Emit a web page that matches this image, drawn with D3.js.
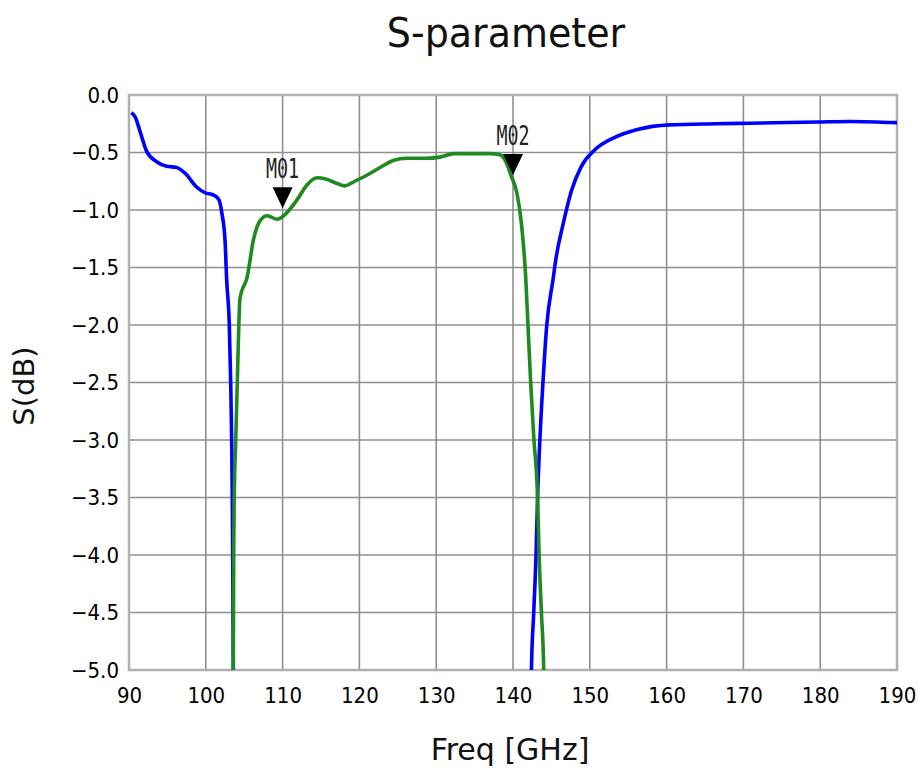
<!DOCTYPE html>
<html>
<head>
<meta charset="utf-8">
<script src="https://cdn.jsdelivr.net/npm/d3@7/dist/d3.min.js"></script>
<style>
html,body{margin:0;padding:0;background:#fff;}
svg{display:block;}
.tick text{font-family:"DejaVu Sans Condensed","DejaVu Sans",sans-serif;}
</style>
</head>
<body>
<svg id="chart" width="918" height="771"></svg>
<script>
// ---- data ----
const xTicks = [90,100,110,120,130,140,150,160,170,180,190];
const yTicks = [0,-0.5,-1,-1.5,-2,-2.5,-3,-3.5,-4,-4.5,-5];

// Blue trace (reflection) – values below -5 dB fall off the chart
const blueFreq = [90.3,90.8,91.5,92.3,93.6,94.9,96.2,97.3,98.8,99.9,101.0,101.7,102.1,102.5,102.72,103.06,103.24,103.37,103.45,103.5,103.58,103.65,
                  142.3,142.4,142.7,143.0,143.2,143.5,143.9,144.4,145.2,145.6,146.5,147.6,148.9,150.6,153.2,156.2,160.4,166.4,170.8,179.6,183.9,190.0];
const blueS    = [-0.155,-0.19,-0.33,-0.49,-0.58,-0.62,-0.63,-0.68,-0.80,-0.85,-0.87,-0.91,-1.03,-1.26,-1.61,-2.0,-2.5,-3.0,-3.5,-4.0,-5.0,-6.0,
                  -6.0,-5.0,-4.5,-4.0,-3.5,-3.0,-2.5,-2.0,-1.61,-1.42,-1.13,-0.835,-0.62,-0.48,-0.37,-0.30,-0.26,-0.25,-0.245,-0.235,-0.23,-0.24];
const blueGapAfter = 103.65; // trace below range between the two edges

// Green trace (transmission)
const greenFreq = [103.5,103.58,103.63,103.7,103.9,104.1,104.3,104.45,105.4,106.2,107.1,108.0,109.3,110.3,111.9,113.2,114.5,115.6,117.1,118.1,119.4,120.9,122.7,124.4,126.2,128.8,130.5,132.3,134.0,137.0,138.3,139.0,139.8,140.5,141.1,141.65,141.95,142.3,142.73,143.2,143.4,143.7,144.0,144.1];
const greenS    = [-6.0,-5.0,-4.0,-3.5,-3.0,-2.5,-2.0,-1.77,-1.58,-1.26,-1.09,-1.05,-1.08,-1.04,-0.91,-0.78,-0.72,-0.73,-0.77,-0.79,-0.75,-0.70,-0.63,-0.57,-0.55,-0.55,-0.54,-0.51,-0.51,-0.51,-0.52,-0.57,-0.71,-0.85,-1.12,-1.58,-2.0,-2.5,-3.0,-3.5,-4.0,-4.5,-5.0,-6.0];

const markerNames = ["M01","M02"];
const markerFreq  = [110, 140];
const markerS     = [-0.985, -0.695];

const titleText = "S-parameter";
const xLabel = "Freq [GHz]";
const yLabel = "S(dB)";

// ---- layout ----
const W = 918, H = 771;
const margin = {left:129, right:21, top:95, bottom:101};
const svg = d3.select("#chart");

const x = d3.scaleLinear().domain([90,190]).range([margin.left, W - margin.right]);
const y = d3.scaleLinear().domain([-5,0]).range([H - margin.bottom, margin.top]);

// clip
svg.append("defs").append("clipPath").attr("id","plotclip")
  .append("rect").attr("x",x(90)).attr("y",y(0)).attr("width",x(190)-x(90)).attr("height",y(-5)-y(0));

// grid
const grid = svg.append("g");
grid.selectAll("line.v").data(xTicks).join("line")
  .attr("x1",d=>x(d)).attr("x2",d=>x(d)).attr("y1",y(0)).attr("y2",y(-5))
  .attr("stroke","#8f8f8f").attr("stroke-width",1.6);
grid.selectAll("line.h").data(yTicks).join("line")
  .attr("y1",d=>y(d)).attr("y2",d=>y(d)).attr("x1",x(90)).attr("x2",x(190))
  .attr("stroke","#8f8f8f").attr("stroke-width",1.6);
// frame
svg.append("rect").attr("x",x(90)).attr("y",y(0)).attr("width",x(190)-x(90)).attr("height",y(-5)-y(0))
  .attr("fill","none").attr("stroke","#b0b0b0").attr("stroke-width",2.5);

// axes (labels only)
const fmt = d3.format(".1f");
const yAxis = d3.axisLeft(y).tickValues(yTicks).tickFormat(fmt).tickSize(0).tickPadding(10);
const yg = svg.append("g").attr("transform",`translate(${x(90)},0)`).call(yAxis);
const xAxis = d3.axisBottom(x).tickValues(xTicks).tickFormat(d3.format("d")).tickSize(0).tickPadding(17);
const xg = svg.append("g").attr("transform",`translate(0,${y(-5)})`).call(xAxis);
[yg,xg].forEach(g=>{
  g.select(".domain").remove();
  g.selectAll(".tick text").attr("font-size",22).attr("fill","#000");
});

// lines
const line = d3.line().x(d=>x(d[0])).y(d=>y(d[1])).curve(d3.curveMonotoneX);
const bluePts = blueFreq.map((f,i)=>[f,blueS[i]]);
const blueSegs = [bluePts.filter(d=>d[0]<=blueGapAfter), bluePts.filter(d=>d[0]>blueGapAfter)];
const greenPts = greenFreq.map((f,i)=>[f,greenS[i]]);

const plot = svg.append("g").attr("clip-path","url(#plotclip)");
plot.selectAll("path.blue").data(blueSegs).join("path").attr("class","blue")
  .attr("d",line).attr("fill","none").attr("stroke","#0000ff").attr("stroke-width",3.6)
  .attr("stroke-linejoin","round");
plot.append("path").datum(greenPts)
  .attr("d",line).attr("fill","none").attr("stroke","#1f8a1f").attr("stroke-width",3.6)
  .attr("stroke-linejoin","round");

// markers
const markers = markerNames.map((n,i)=>({n, f:markerFreq[i], s:markerS[i]}));
const mg = svg.append("g").selectAll("g").data(markers).join("g")
  .attr("transform",d=>`translate(${x(d.f)},${y(d.s)})`);
mg.append("path").attr("d","M0,0 L-10,-21 L10,-21 Z").attr("fill","#000");
mg.append("text").text(d=>d.n)
  .attr("transform","translate(0,-30) scale(0.68,1)")
  .attr("text-anchor","middle")
  .attr("font-family","'DejaVu Sans Mono',monospace").attr("font-size",27).attr("fill","#222");

// titles
svg.append("text").text(titleText).attr("transform","translate(506,47) scale(0.95,1)").attr("text-anchor","middle")
  .attr("font-family","'DejaVu Sans',sans-serif").attr("font-size",40).attr("fill","#111");
svg.append("text").text(xLabel).attr("x",510).attr("y",760).attr("text-anchor","middle")
  .attr("font-family","'DejaVu Sans',sans-serif").attr("font-size",30).attr("fill","#111");
svg.append("text").text(yLabel).attr("transform","translate(34,386) rotate(-90)").attr("text-anchor","middle")
  .attr("font-family","'DejaVu Sans',sans-serif").attr("font-size",29).attr("fill","#111");
</script>
</body>
</html>
